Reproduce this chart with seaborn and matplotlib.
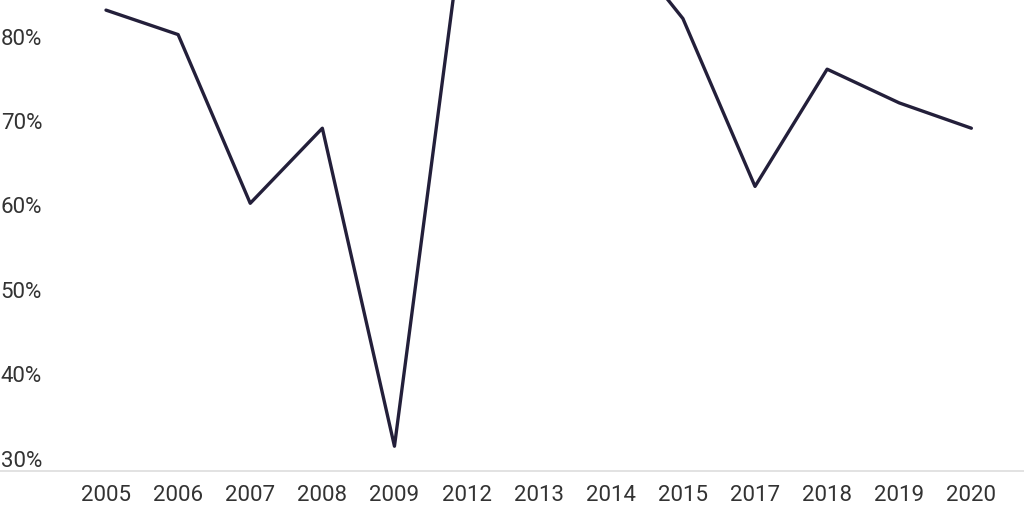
import matplotlib.pyplot as plt
import pandas as pd
import seaborn as sns

sns.set_theme(style="white")
plt.rcParams["font.family"] = ["Roboto", "DejaVu Sans"]

years = ["2005", "2006", "2007", "2008", "2009", "2012", "2013",
         "2014", "2015", "2017", "2018", "2019", "2020"]
share = [84.6, 81.7, 61.7, 70.6, 32.9, 98.0, 96.0,
         94.3, 83.6, 63.7, 77.6, 73.6, 70.6]
y_ticks = [30, 40, 50, 60, 70, 80]

df = pd.DataFrame({"year": years, "share": share})

fig = plt.figure(figsize=(10.24, 5.12), dpi=100)
ax = fig.add_axes([0, 0.0807, 1, 0.9193])

sns.lineplot(data=df, x="year", y="share", sort=False,
             color="#231f3a", linewidth=2.4, ax=ax)

ax.set_xlim(-1.47, 12.73)
ax.set_ylim(30, 85.8)

for s in ["top", "right", "left"]:
    ax.spines[s].set_visible(False)
ax.spines["bottom"].set_color("#dddddd")
ax.spines["bottom"].set_linewidth(1.2)

ax.set_yticks([])
for v in y_ticks:
    ax.annotate(f"{v}%", xy=(0, v), xycoords=ax.get_yaxis_transform(),
                xytext=(0.5, 3), textcoords="offset points",
                ha="left", va="baseline", fontsize=16, color="#333333")

ax.tick_params(axis="x", length=0, pad=10, labelsize=16, labelcolor="#333333")
ax.set_xlabel("")
ax.set_ylabel("")

fig.savefig("out.png", dpi=100)
